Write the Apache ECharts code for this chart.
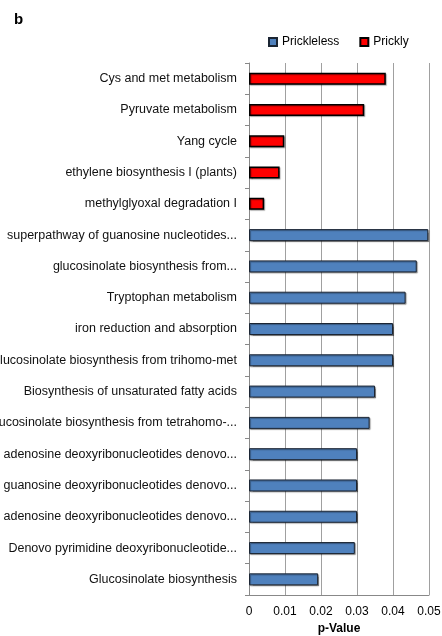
<!DOCTYPE html>
<html>
<head>
<meta charset="utf-8">
<script src="https://cdn.jsdelivr.net/npm/echarts@6/dist/echarts.min.js"></script>
<style>
  html, body { margin: 0; padding: 0; background: #fff; }
  #chart { width: 442px; height: 636px; }
</style>
</head>
<body>
<div id="chart"></div>
<script>
// Pathway names, top to bottom
const pathways = [
  "Cys and met metabolism",
  "Pyruvate metabolism",
  "Yang cycle",
  "ethylene biosynthesis I (plants)",
  "methylglyoxal degradation I",
  "superpathway of guanosine nucleotides...",
  "glucosinolate biosynthesis from...",
  "Tryptophan metabolism",
  "iron reduction and absorption",
  "glucosinolate biosynthesis from trihomo-met",
  "Biosynthesis of unsaturated fatty acids",
  "glucosinolate biosynthesis from tetrahomo-...",
  "adenosine deoxyribonucleotides denovo...",
  "guanosine deoxyribonucleotides denovo...",
  "adenosine deoxyribonucleotides denovo...",
  "Denovo pyrimidine deoxyribonucleotide...",
  "Glucosinolate biosynthesis"
];

// p-values per group (null where the pathway belongs to the other group)
const prickly = [0.038, 0.032, 0.0098, 0.0085, 0.0042,
  null, null, null, null, null, null, null, null, null, null, null, null];
const prickleless = [null, null, null, null, null,
  0.0498, 0.0466, 0.0435, 0.040, 0.040, 0.035, 0.0335, 0.030, 0.030, 0.030, 0.0294, 0.0192];

const xTicks = [0, 0.01, 0.02, 0.03, 0.04, 0.05];

const FONT = "Liberation Sans";
const chart = echarts.init(document.getElementById('chart'), null, { renderer: 'canvas' });

chart.setOption({
  animation: false,
  backgroundColor: '#ffffff',
  textStyle: { fontFamily: FONT },
  title: {
    text: 'b',
    left: 9, top: 7,
    textStyle: { fontFamily: FONT, fontSize: 15, fontWeight: 'bold', color: '#000' }
  },
  legend: {
    left: 263, top: 31,
    itemWidth: 8, itemHeight: 8, itemGap: 20,
    icon: 'rect',
    textStyle: { fontFamily: FONT, fontSize: 12, color: '#000' },
    data: ['Prickleless', 'Prickly']
  },
  grid: { left: 249, right: 13, top: 63, bottom: 41, containLabel: false, outerBoundsMode: 'none' },
  xAxis: {
    type: 'value',
    min: xTicks[0], max: xTicks[xTicks.length - 1], interval: 0.01,
    name: 'p-Value', nameLocation: 'middle', nameGap: 28,
    nameTextStyle: { fontFamily: FONT, fontSize: 12, fontWeight: 'bold', color: '#000' },
    axisLine: { show: true, lineStyle: { color: '#888', width: 1 } },
    axisTick: { show: false },
    axisLabel: {
      margin: 11, fontFamily: FONT, fontSize: 12, color: '#000',
      formatter: v => String(v)
    },
    splitLine: { show: true, lineStyle: { color: '#a0a0a0', width: 1 } }
  },
  yAxis: {
    type: 'category',
    inverse: true,
    data: pathways,
    axisLine: { show: true, lineStyle: { color: '#888', width: 1 } },
    axisTick: { show: true, inside: false, length: 4, lineStyle: { color: '#888' } },
    axisLabel: { margin: 12, fontFamily: FONT, fontSize: 12.5, color: '#111' }
  },
  series: [
    {
      name: 'Prickleless',
      type: 'bar',
      stack: 'p',
      barWidth: 12,
      data: prickleless,
      itemStyle: {
        color: '#4F81BD', borderColor: '#1b2533', borderWidth: 1,
        shadowColor: 'rgba(0,0,0,0.35)', shadowOffsetX: 1, shadowOffsetY: 1, shadowBlur: 1
      }
    },
    {
      name: 'Prickly',
      type: 'bar',
      stack: 'p',
      barWidth: 12,
      data: prickly,
      itemStyle: {
        color: '#FF0000', borderColor: '#000', borderWidth: 1.5,
        shadowColor: 'rgba(0,0,0,0.3)', shadowOffsetX: 1, shadowOffsetY: 1, shadowBlur: 1
      }
    }
  ]
});
</script>
</body>
</html>
